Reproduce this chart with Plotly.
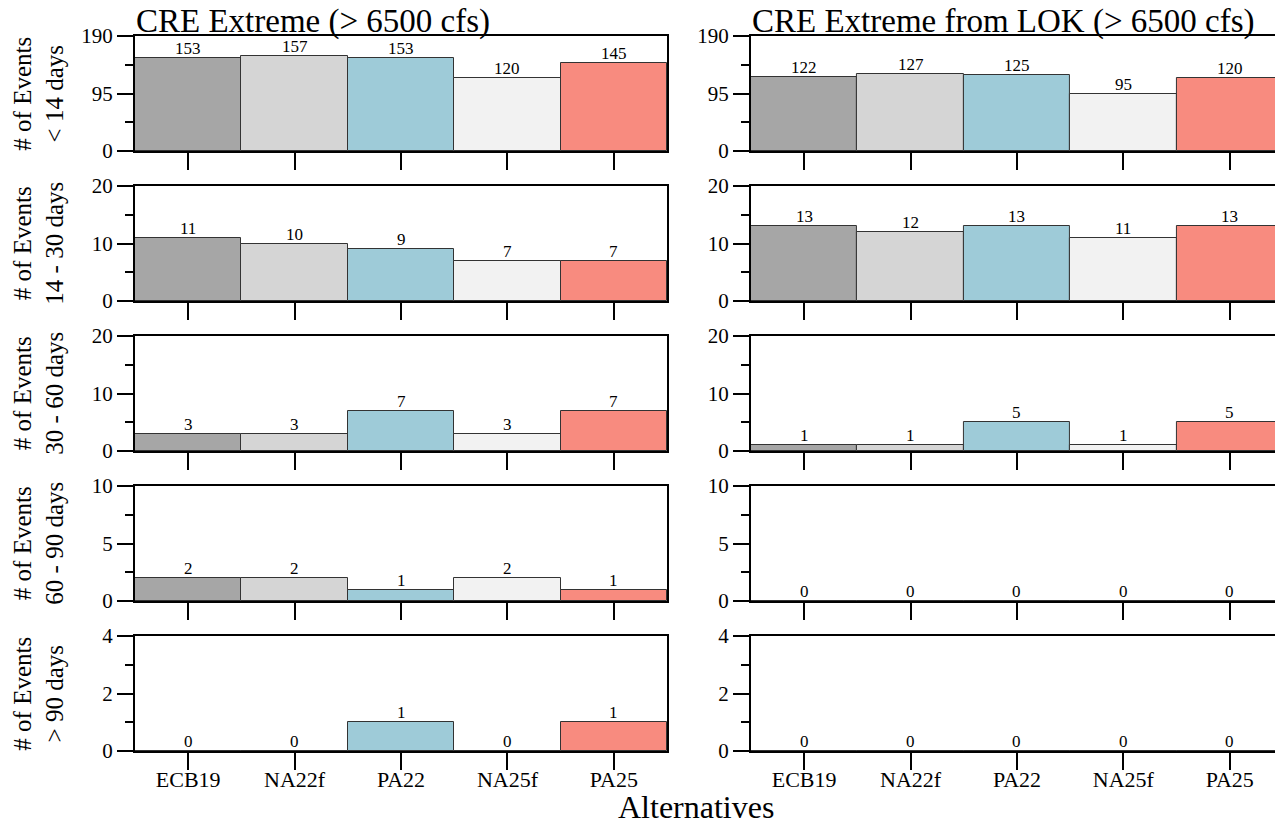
import plotly.graph_objects as go

categories = ["ECB19", "NA22f", "PA22", "NA25f", "PA25"]
bar_colors = ["#a6a6a6", "#d5d5d5", "#9ecbd8", "#f2f2f2", "#f88b7f"]
col_titles = ["CRE Extreme (&gt; 6500 cfs)", "CRE Extreme from LOK (&gt; 6500 cfs)"]
row_labels = ["&lt; 14 days", "14 - 30 days", "30 - 60 days", "60 - 90 days", "&gt; 90 days"]
y_max = [190, 20, 20, 10, 4]
y_step = [95, 10, 10, 5, 2]

cre_lt14 = [153, 157, 153, 120, 145]
cre_14_30 = [11, 10, 9, 7, 7]
cre_30_60 = [3, 3, 7, 3, 7]
cre_60_90 = [2, 2, 1, 2, 1]
cre_gt90 = [0, 0, 1, 0, 1]

lok_lt14 = [122, 127, 125, 95, 120]
lok_14_30 = [13, 12, 13, 11, 13]
lok_30_60 = [1, 1, 5, 1, 5]
lok_60_90 = [0, 0, 0, 0, 0]
lok_gt90 = [0, 0, 0, 0, 0]

data = [
    [cre_lt14, cre_14_30, cre_30_60, cre_60_90, cre_gt90],
    [lok_lt14, lok_14_30, lok_30_60, lok_60_90, lok_gt90],
]

# page has an 8px body margin; figure coords = page coords - 8
W, H = 1283, 822
mt, mb, ml, mr = 28, 79, 127, 6
pw = W - ml - mr
ph = H - mt - mb
row_h, row_gap = 115, 35
col_x = [(0, 533), (617, 1150)]

FONT = "Liberation Serif"
fig = go.Figure()
layout = {}
annotations = []
n = 0
for c in range(2):
    for r in range(5):
        n += 1
        xa = "x" if n == 1 else f"x{n}"
        ya = "y" if n == 1 else f"y{n}"
        vals = data[c][r]
        fig.add_trace(go.Bar(
            x=categories, y=vals, xaxis=xa, yaxis=ya,
            marker=dict(color=bar_colors, line=dict(color="#333333", width=1)),
            showlegend=False, width=1.0, hoverinfo="x+y",
        ))
        for cat, v in zip(categories, vals):
            annotations.append(dict(
                text=str(v), x=cat, y=v, xref=xa, yref=ya,
                xanchor="center", yanchor="bottom", yshift=-2,
                showarrow=False, font=dict(family=FONT, size=17, color="black"),
            ))
        top_px = r * (row_h + row_gap)
        y0 = (ph - top_px - row_h) / ph
        y1 = (ph - top_px) / ph
        x0 = col_x[c][0] / pw
        x1 = col_x[c][1] / pw
        key_x = "xaxis" if n == 1 else f"xaxis{n}"
        key_y = "yaxis" if n == 1 else f"yaxis{n}"
        layout[key_x] = dict(
            domain=[x0, x1], anchor=ya, range=[-0.5, 4.5],
            showline=True, linecolor="black", linewidth=2, mirror=True,
            ticks="outside", ticklen=17, tickwidth=2, tickcolor="black",
            showticklabels=(r == 4), showgrid=False, zeroline=False,
            tickfont=dict(family=FONT, size=22, color="black"),
            ticklabelstandoff=-9,
            fixedrange=True,
        )
        m = y_max[r]
        s = y_step[r]
        layout[key_y] = dict(
            domain=[y0, y1], anchor=xa, range=[0, m],
            tickmode="array", tickvals=[0, s, 2 * s],
            showline=True, linecolor="black", linewidth=2, mirror=True,
            ticks="outside", ticklen=16, tickwidth=2, tickcolor="black",
            minor=dict(tickmode="array", tickvals=[s / 2, 1.5 * s], ticks="outside",
                       ticklen=8, tickwidth=2, tickcolor="black"),
            showgrid=False, zeroline=False,
            tickfont=dict(family=FONT, size=21, color="black"),
            fixedrange=True,
        )

for c in range(2):
    annotations.append(dict(
        text=col_titles[c], xref="paper", yref="paper",
        x=col_x[c][0] / pw, y=1.0, xanchor="left", yanchor="bottom",
        xshift=-1, yshift=-6, showarrow=False,
        font=dict(family=FONT, size=33, color="black"),
    ))
for r in range(5):
    top_px = r * (row_h + row_gap)
    yc = (ph - top_px - row_h / 2) / ph
    annotations.append(dict(
        text=f"# of Events<br>{row_labels[r]}", xref="paper", yref="paper",
        x=(30 - ml) / pw, y=yc, xanchor="center", yanchor="middle",
        textangle=-90, showarrow=False,
        font=dict(family=FONT, size=25, color="black"),
    ))
annotations.append(dict(
    text="Alternatives", xref="paper", yref="paper",
    x=(689 - ml) / pw, y=0, xanchor="center", yanchor="top", yshift=-36,
    showarrow=False, font=dict(family=FONT, size=32, color="black"),
))

fig.update_layout(
    width=W, height=H,
    margin=dict(l=ml, r=mr, t=mt, b=mb),
    plot_bgcolor="white", paper_bgcolor="white",
    bargap=0, annotations=annotations,
    font=dict(family=FONT, color="black"),
    **layout,
)
fig.write_html("out.html")
